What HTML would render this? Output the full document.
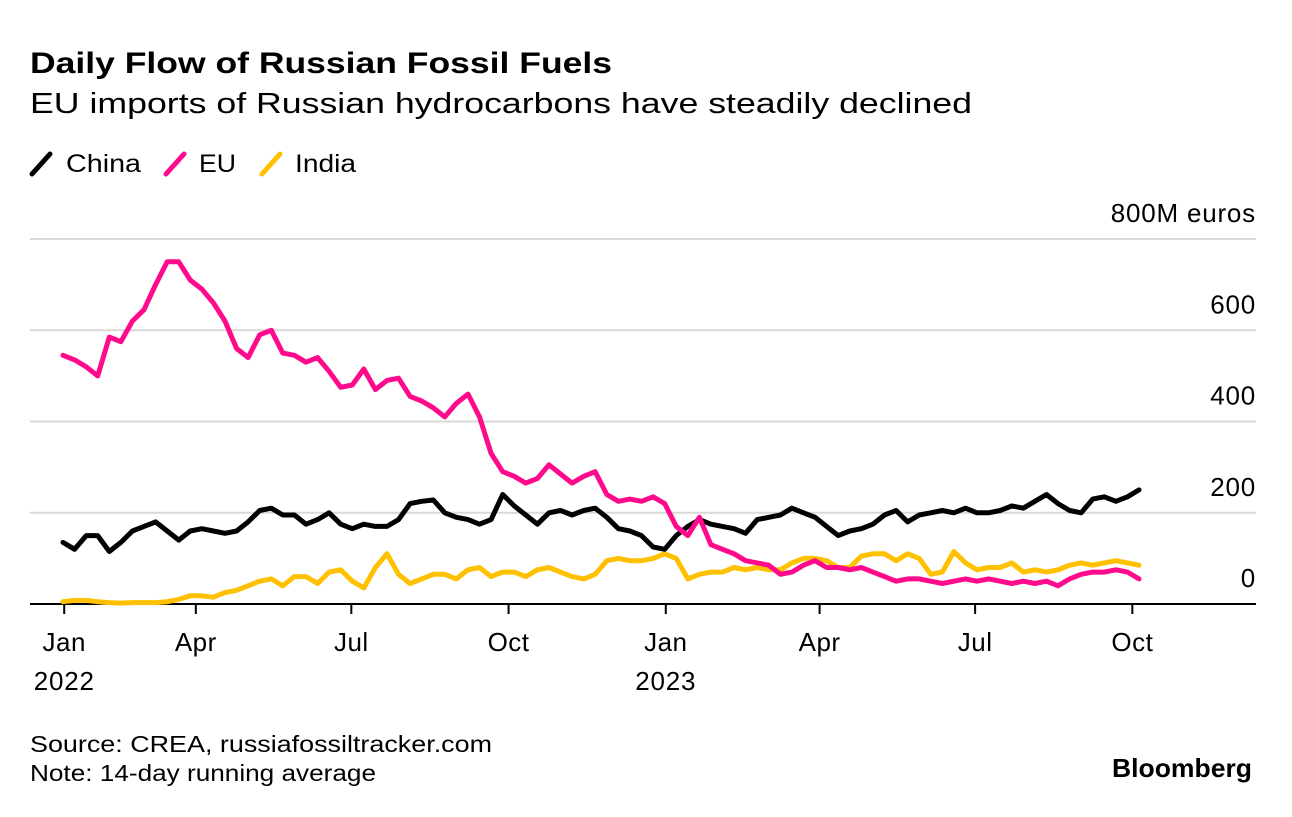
<!DOCTYPE html>
<html><head><meta charset="utf-8"><style>
body{margin:0;background:#fff;font-family:"Liberation Sans",Arial,sans-serif;}
svg text{font-family:"Liberation Sans",Arial,sans-serif;}
</style></head><body>
<svg id="chart" width="1292" height="812" viewBox="0 0 1292 812">
<text x="30" y="73" font-size="30" font-weight="bold" fill="#000" textLength="582" lengthAdjust="spacingAndGlyphs">Daily Flow of Russian Fossil Fuels</text>
<text x="30" y="113" font-size="29" fill="#000" textLength="942" lengthAdjust="spacingAndGlyphs">EU imports of Russian hydrocarbons have steadily declined</text>
<g>
 <line x1="32" y1="174" x2="50" y2="154" stroke="#000" stroke-width="5" stroke-linecap="round"/>
 <text x="66" y="172" font-size="25" textLength="75" lengthAdjust="spacingAndGlyphs">China</text>
 <line x1="166" y1="174" x2="184" y2="154" stroke="#ff0a8c" stroke-width="5" stroke-linecap="round"/>
 <text x="199" y="172" font-size="25" textLength="37" lengthAdjust="spacingAndGlyphs">EU</text>
 <line x1="262" y1="174" x2="280" y2="154" stroke="#ffc000" stroke-width="5" stroke-linecap="round"/>
 <text x="295" y="172" font-size="25" textLength="61" lengthAdjust="spacingAndGlyphs">India</text>
</g>
<g id="grid"></g>
<g id="xaxis"></g>
<g id="series"></g>
<text x="30" y="752" font-size="23" textLength="462" lengthAdjust="spacingAndGlyphs">Source: CREA, russiafossiltracker.com</text>
<text x="30" y="781" font-size="23" textLength="346" lengthAdjust="spacingAndGlyphs">Note: 14-day running average</text>
<text x="1252" y="777" font-size="26" font-weight="bold" text-anchor="end" textLength="140" lengthAdjust="spacingAndGlyphs">Bloomberg</text>
</svg>
<script>
const yTicks=[0,200,400,600,800];
const yTickLabels=["0","200","400","600","800M euros"];
const xTickDays=[13,90,181,273,365,455,546,638];
const xTickLabels=["Jan","Apr","Jul","Oct","Jan","Apr","Jul","Oct"];
const xYearLabels=["2022","","","","2023","","",""];
const startDay=12.3;
const dayStep=6.77;
const euValues=[545,535,520,500,585,575,620,645,700,750,750,710,690,660,620,560,540,590,600,550,545,530,540,510,475,480,515,470,490,495,455,445,430,410,440,460,410,330,290,280,265,275,305,285,265,280,290,240,225,230,225,235,220,170,150,190,130,120,110,95,90,85,65,70,85,95,80,80,75,80,70,60,50,55,55,50,45,50,55,50,55,50,45,50,45,50,40,55,65,70,70,75,70,55];
const chinaValues=[135,120,150,150,115,135,160,170,180,160,140,160,165,160,155,160,180,205,210,195,195,175,185,200,175,165,175,170,170,185,220,225,228,200,190,185,175,185,240,215,195,175,200,205,195,205,210,190,165,160,150,125,120,150,170,185,175,170,165,155,185,190,195,210,200,190,170,150,160,165,175,195,205,180,195,200,205,200,210,200,200,205,215,210,225,240,220,205,200,230,235,225,235,250];
const indiaValues=[5,8,8,5,3,2,3,3,3,5,10,18,18,15,25,30,40,50,55,40,60,60,45,70,75,50,35,80,110,65,45,55,65,65,55,75,80,60,70,70,60,75,80,70,60,55,65,95,100,95,95,100,110,100,55,65,70,70,80,75,80,75,75,90,100,100,95,80,80,105,110,110,95,110,100,65,70,115,90,75,80,80,90,70,75,70,75,85,90,85,90,95,90,85];

const X0=42, PXDAY=1.709, Y0=604, PXUNIT=365/800;
function xScale(d){return X0+d*PXDAY;}
function yScale(v){return Y0-v*PXUNIT;}
const NS="http://www.w3.org/2000/svg";
function mk(tag,attrs,parent){const e=document.createElementNS(NS,tag);for(const k in attrs)e.setAttribute(k,attrs[k]);parent.appendChild(e);return e;}
const grid=document.getElementById('grid');
yTicks.forEach((v,i)=>{
  if(v>0){const l=mk('line',{x1:30,x2:1256,y1:yScale(v),y2:yScale(v),stroke:'#d9d9d9','stroke-width':2},grid);
  
  }
  const t=mk('text',{x:1256,y:yScale(v)-17,'font-size':26,'text-anchor':'end','letter-spacing':'0.8'},grid);
  t.textContent=yTickLabels[i];
  
  
});
const xa=document.getElementById('xaxis');
const ax=mk('line',{x1:30,x2:1256,y1:Y0,y2:Y0,stroke:'#000','stroke-width':2},xa);


xTickDays.forEach((d,i)=>{
  const x=xScale(d);
  const tk=mk('line',{x1:x,x2:x,y1:Y0,y2:Y0+10,stroke:'#000','stroke-width':2},xa);
  
  
  const t=mk('text',{x:x,y:651,'font-size':26,'text-anchor':'middle','letter-spacing':'0.5'},xa);
  t.textContent=xTickLabels[i];
  
  
  if(xYearLabels[i]){const y=mk('text',{x:x,y:690,'font-size':26,'text-anchor':'middle','letter-spacing':'0.8'},xa);
  y.textContent=xYearLabels[i];
  
  }
});
const sg=document.getElementById('series');
function line(vals,color,name){
  const d=vals.map((v,i)=>(i?'L':'M')+xScale(startDay+i*dayStep).toFixed(1)+' '+yScale(v).toFixed(1)).join(' ');
  const p=mk('path',{d:d,fill:'none',stroke:color,'stroke-width':5,'stroke-linejoin':'round','stroke-linecap':'round'},sg);
  
  
}
line(indiaValues,'#ffc000','india-line');
line(chinaValues,'#000000','china-line');
line(euValues,'#ff0a8c','eu-line');
</script>
</body></html>
